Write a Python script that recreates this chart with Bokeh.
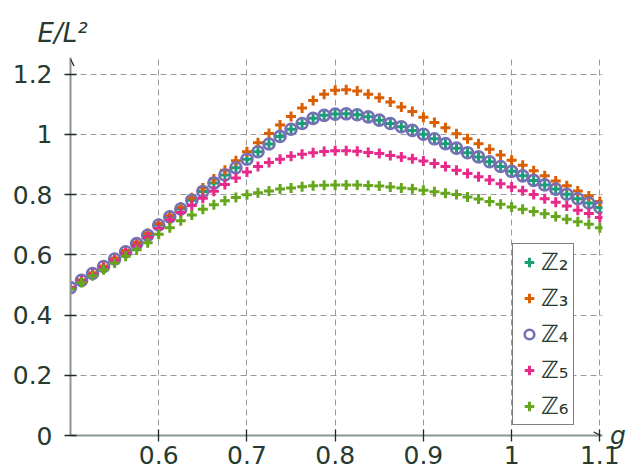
from bokeh.plotting import figure
from bokeh.models import (Range1d, FixedTicker, CustomJSTickFormatter, Legend,
                          LegendItem, Arrow, OpenHead, Label)
from bokeh.embed import file_html
from bokeh.resources import INLINE

g = [0.5, 0.5125, 0.525, 0.5375, 0.55, 0.5625, 0.575, 0.5875, 0.6, 0.6125,
     0.625, 0.6375, 0.65, 0.6625, 0.675, 0.6875, 0.7, 0.7125, 0.725, 0.7375,
     0.75, 0.7625, 0.775, 0.7875, 0.8, 0.8125, 0.825, 0.8375, 0.85, 0.8625,
     0.875, 0.8875, 0.9, 0.9125, 0.925, 0.9375, 0.95, 0.9625, 0.975, 0.9875,
     1.0, 1.0125, 1.025, 1.0375, 1.05, 1.0625, 1.075, 1.0875, 1.1]

z2 = [0.491, 0.515, 0.538, 0.561, 0.586, 0.610, 0.637, 0.665, 0.699, 0.726,
      0.752, 0.781, 0.810, 0.838, 0.865, 0.889, 0.917, 0.942, 0.968, 0.993,
      1.017, 1.036, 1.053, 1.063, 1.067, 1.068, 1.065, 1.058, 1.047, 1.036,
      1.025, 1.013, 1.000, 0.985, 0.969, 0.954, 0.939, 0.925, 0.909, 0.893,
      0.877, 0.862, 0.847, 0.832, 0.818, 0.801, 0.786, 0.772, 0.757]

z3 = [0.492, 0.517, 0.540, 0.563, 0.589, 0.614, 0.642, 0.671, 0.704, 0.731,
      0.758, 0.789, 0.822, 0.852, 0.881, 0.912, 0.942, 0.972, 1.003, 1.031,
      1.059, 1.087, 1.112, 1.133, 1.146, 1.148, 1.144, 1.133, 1.121, 1.107,
      1.091, 1.076, 1.057, 1.039, 1.022, 1.002, 0.985, 0.969, 0.950, 0.931,
      0.914, 0.897, 0.879, 0.862, 0.845, 0.829, 0.812, 0.795, 0.777]

z4 = [0.491, 0.515, 0.538, 0.561, 0.586, 0.610, 0.637, 0.665, 0.699, 0.726,
      0.752, 0.781, 0.810, 0.838, 0.865, 0.889, 0.917, 0.942, 0.968, 0.993,
      1.017, 1.036, 1.053, 1.063, 1.067, 1.068, 1.065, 1.058, 1.047, 1.036,
      1.025, 1.013, 1.000, 0.985, 0.969, 0.954, 0.939, 0.925, 0.909, 0.893,
      0.877, 0.862, 0.847, 0.832, 0.818, 0.801, 0.786, 0.772, 0.757]

z5 = [0.490, 0.513, 0.535, 0.557, 0.581, 0.604, 0.630, 0.657, 0.688, 0.716,
      0.740, 0.764, 0.788, 0.811, 0.833, 0.855, 0.875, 0.893, 0.906, 0.917,
      0.927, 0.934, 0.939, 0.943, 0.945, 0.945, 0.944, 0.940, 0.936, 0.930,
      0.925, 0.919, 0.911, 0.903, 0.893, 0.881, 0.870, 0.859, 0.848, 0.836,
      0.825, 0.813, 0.800, 0.786, 0.774, 0.762, 0.748, 0.737, 0.724]

z6 = [0.486, 0.508, 0.530, 0.550, 0.573, 0.595, 0.617, 0.640, 0.668, 0.690,
      0.713, 0.732, 0.751, 0.766, 0.779, 0.790, 0.799, 0.806, 0.812, 0.818,
      0.822, 0.826, 0.829, 0.831, 0.832, 0.832, 0.832, 0.830, 0.828, 0.825,
      0.822, 0.819, 0.814, 0.809, 0.804, 0.800, 0.792, 0.785, 0.777, 0.768,
      0.759, 0.751, 0.744, 0.736, 0.727, 0.718, 0.710, 0.701, 0.690]

labels = ["ℤ₂", "ℤ₃", "ℤ₄", "ℤ₅", "ℤ₆"]
colors = ["#1b9e77", "#d95f02", "#7570b3", "#e7298a", "#66a61e"]
markers = ["cross", "cross", "circle", "cross", "cross"]
x_ticks = [0.6, 0.7, 0.8, 0.9, 1.0, 1.1]
y_ticks = [0, 0.2, 0.4, 0.6, 0.8, 1.0, 1.2]

TXT = "#263a2f"
DARK = "#1e2a24"

p = figure(width=627, height=475, output_backend="svg", toolbar_location=None,
           x_range=Range1d(0.5, 1.103), y_range=Range1d(0, 1.255),
           min_border_left=70, min_border_right=25, min_border_top=57,
           min_border_bottom=40)
p.outline_line_color = None

# y-axis name as title (top-left)
p.title.text = "E/L²"
p.title.text_font = "DejaVu Sans"
p.title.text_font_style = "italic"
p.title.text_font_size = "26px"
p.title.text_color = TXT
p.title.align = "left"
p.title.offset = -33
p.title.standoff = 20

fmt = CustomJSTickFormatter(code="const s = tick.toFixed(1); return s.endsWith('.0') ? s.slice(0, -2) : s;")
for ax, ticks in ((p.xaxis[0], x_ticks), (p.yaxis[0], y_ticks)):
    ax.ticker = FixedTicker(ticks=ticks)
    ax.formatter = fmt
    ax.axis_line_color = "#8a9691"
    ax.axis_line_width = 2
    ax.major_tick_line_color = DARK
    ax.major_tick_line_width = 1.3
    ax.major_tick_in = 6
    ax.major_tick_out = 6
    ax.minor_tick_line_color = None
    ax.major_label_text_font = "DejaVu Sans"
    ax.major_label_text_font_size = "25px"
    ax.major_label_text_color = TXT
p.xaxis.major_label_standoff = 4
p.yaxis.major_label_standoff = 12

# x-axis name "g" at the right end of the x axis (in the right side panel)
p.add_layout(Label(x=1.1115, y=0, text="g", text_font="DejaVu Sans",
                   text_font_style="italic", text_font_size="25px",
                   text_color=TXT, text_align="left", text_baseline="middle"),
             "right")

for grid in (p.xgrid, p.ygrid):
    grid.grid_line_color = "#9a9a9a"
    grid.grid_line_dash = "6 4"
    grid.grid_line_width = 1

series = [z2, z3, z4, z5, z6]
items = []
for ys, lab, col, mk in zip(series, labels, colors, markers):
    if mk == "circle":
        r = p.scatter(g, ys, marker="circle", size=11, line_color=col,
                      line_width=2.6, fill_color=None)
    else:
        r = p.scatter(g, ys, marker="cross", size=10, line_color=col,
                      line_width=3)
    items.append(LegendItem(label=lab, renderers=[r]))

legend = Legend(items=items, location=(442, 10), label_text_font="DejaVu Sans",
                label_text_font_size="24px", label_text_color=TXT,
                glyph_width=24, glyph_height=24, label_width=28, label_height=28,
                label_standoff=0, spacing=8, padding=4, margin=0,
                border_line_color="black", border_line_width=1,
                background_fill_color="white", background_fill_alpha=1)
p.add_layout(legend)

p.add_layout(Arrow(end=OpenHead(size=7, line_color=DARK, line_width=1.3),
                   x_start=0.5, y_start=1.2, x_end=0.5, y_end=1.25, line_alpha=0))
p.add_layout(Arrow(end=OpenHead(size=7, line_color=DARK, line_width=1.3),
                   x_start=1.08, y_start=0, x_end=1.101, y_end=0, line_alpha=0))

open("out.html", "w").write(file_html(p, INLINE))
